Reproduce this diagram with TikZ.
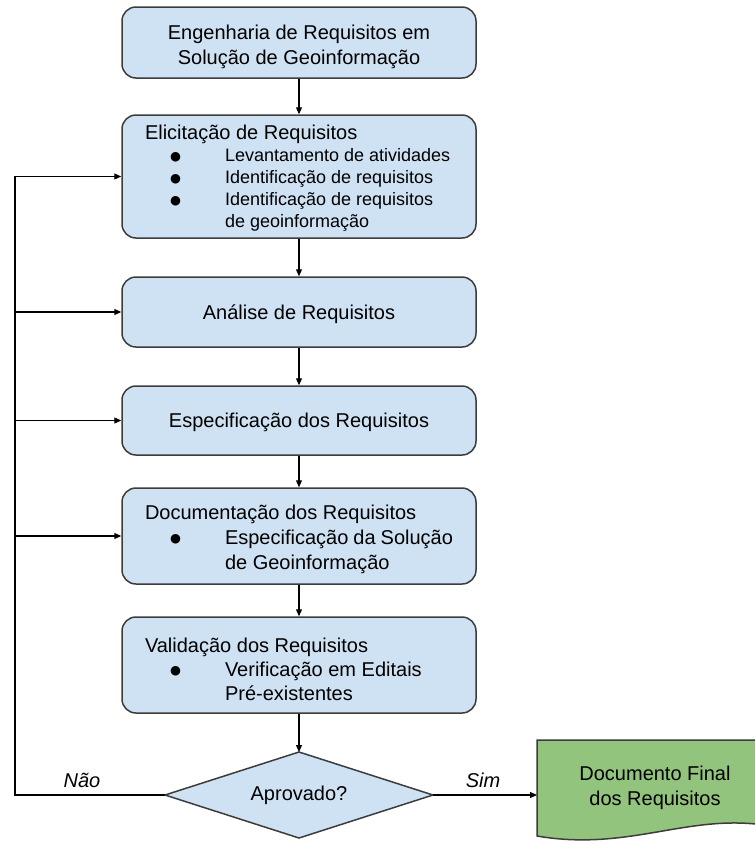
\documentclass[tikz,border=0pt]{standalone}
\usepackage{fontspec}
\setmainfont{Liberation Sans}
\newfontfamily\symfont{DejaVu Sans}
\usetikzlibrary{arrows.meta}
\definecolor{boxblue}{HTML}{CFE2F3}
\definecolor{docgreen}{HTML}{93C47D}
\definecolor{edgegray}{HTML}{3C3C3C}
\newcommand\bdot{\raisebox{1.5pt}{\symfont\fontsize{12.5}{0}\selectfont ●}}
\newcommand\bitem[1]{\makebox[80pt][l]{\hspace*{25pt}\bdot}#1}
\newcommand\bcont[1]{\hspace*{80pt}#1}
\newcommand\shiftdown[2]{\raisebox{-#1}[\height][\depth]{#2}}
\begin{document}
\begin{tikzpicture}[x=1pt,y=-1pt,
  stepbox/.style={draw=edgegray, line width=1.5pt, fill=boxblue, rounded corners=14pt,
    minimum width=354pt, inner sep=0pt, font=\fontsize{20}{25}\selectfont},
  arr/.style={-{Triangle[length=7pt,width=6pt]}, line width=1.2pt, draw=black},
  lbl/.style={font=\itshape\fontsize{20}{24}\selectfont, inner sep=0pt}]
\fill[white] (0,0) rectangle (755,844);
\useasboundingbox (0,0) rectangle (755,844);

\node[stepbox, minimum height=71pt] (b1) at (299,42.5)
  {\shiftdown{4pt}{\begin{tabular}{@{}c@{}}Engenharia de Requisitos em\\Solução de Geoinformação\end{tabular}}};
\node[stepbox, minimum height=123pt] (b2) at (299,176.5)
  {\shiftdown{2pt}{\parbox{308pt}{\raggedright\fontsize{18}{22}\selectfont
   {\fontsize{20}{22}\selectfont Elicitação de Requisitos}\\
   \bitem{Levantamento de atividades}\\
   \bitem{Identificação de requisitos}\\
   \bitem{Identificação de requisitos}\\
   \bcont{de geoinformação}}}};
\node[stepbox, minimum height=70pt] (b3) at (299,312) {\shiftdown{2pt}{Análise de Requisitos}};
\node[stepbox, minimum height=69pt] (b4) at (299,420.5) {\shiftdown{2pt}{Especificação dos Requisitos}};
\node[stepbox, minimum height=96pt] (b5) at (299,536)
  {\shiftdown{3pt}{\parbox{308pt}{\raggedright\fontsize{20}{25}\selectfont
   Documentação dos Requisitos\\
   \bitem{Especificação da Solução}\\
   \bcont{de Geoinformação}}}};
\node[stepbox, minimum height=96pt] (b6) at (299,665)
  {\shiftdown{4pt}{\parbox{308pt}{\raggedright\fontsize{20}{24}\selectfont
   Validação dos Requisitos\\
   \bitem{Verificação em Editais}\\
   \bcont{Pré-existentes}}}};

% decision diamond
\coordinate (dian) at (299,752);
\coordinate (dias) at (299,838);
\coordinate (diaw) at (165,795);
\coordinate (diae) at (433,795);
\draw[draw=edgegray, line width=1.5pt, fill=boxblue] (dian) -- (diae) -- (dias) -- (diaw) -- cycle;
\node[font=\fontsize{20}{25}\selectfont, inner sep=0pt] (dia) at (299,795) {Aprovado?};

% final document
\draw[draw=edgegray, line width=1.5pt, fill=docgreen]
  (537,740) -- (770,740) -- (770,826)
  .. controls (690,812) and (630,852) .. (537,836) -- cycle;
\node[font=\fontsize{20}{25}\selectfont, align=center, inner sep=0pt] (doc) at (655,788)
  {Documento Final\\dos Requisitos};
\coordinate (docin) at (537,795);

\draw[arr] (b1.south) -- (b2.north);
\draw[arr] (b2.south) -- (b3.north);
\draw[arr] (b3.south) -- (b4.north);
\draw[arr] (b4.south) -- (b5.north);
\draw[arr] (b5.south) -- (b6.north);
\draw[arr] (b6.south) -- (dian);
\draw[arr] (diae) -- (docin);

\coordinate (lb) at (15,795);
\coordinate (lt) at (15,176.5);
\draw[arr] (diaw) -- (lb) -- (lt) -- (b2.west);
\draw[arr] (lb |- b3.west) -- (b3.west);
\draw[arr] (lb |- b4.west) -- (b4.west);
\draw[arr] (lb |- b5.west) -- (b5.west);

\node[lbl] (nao) at (82,780) {Não};
\node[lbl] (sim) at (483,780) {Sim};
\end{tikzpicture}
\end{document}
